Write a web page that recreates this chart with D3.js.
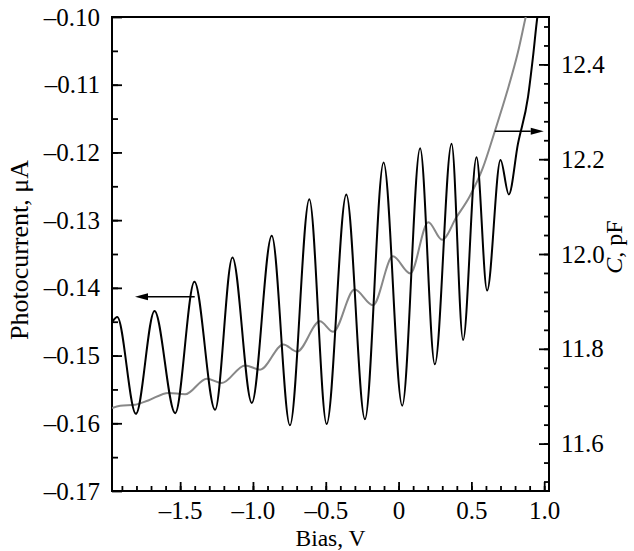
<!DOCTYPE html>
<html>
<head>
<meta charset="utf-8">
<script src="https://cdn.jsdelivr.net/npm/d3@7"></script>
<style>
  body { margin: 0; background: #fff; }
  svg { display: block; font-family: "Liberation Serif", "Times New Roman", serif; }
</style>
</head>
<body>
<div id="chart"></div>
<script>
// photocurrent curve (black): bias in V, current in uA
const biasPc = [-1.968, -1.932, -1.804, -1.676, -1.534, -1.402, -1.260, -1.141, -1.008,
  -0.871, -0.746, -0.613, -0.494, -0.359, -0.231, -0.103, 0.025, 0.148, 0.249,
  0.364, 0.443, 0.535, 0.608, 0.700, 0.757, 0.820, 0.889, 0.923, 0.953, 0.975];
const photocurrent = [-0.1451, -0.1443, -0.1586, -0.1434, -0.1585, -0.1391, -0.1580, -0.1355, -0.1570,
  -0.1323, -0.1603, -0.1269, -0.1601, -0.1262, -0.1594, -0.1215, -0.1574, -0.1194, -0.1513,
  -0.1187, -0.1477, -0.1207, -0.1404, -0.1211, -0.1262, -0.1187, -0.1118, -0.1059, -0.1000, -0.0970];

// capacitance curve (gray): bias in V, C in pF
const biasC = [-1.968, -1.912, -1.809, -1.719, -1.580, -1.466, -1.317, -1.214, -1.054, -0.951,
  -0.791, -0.698, -0.540, -0.449, -0.302, -0.176, -0.039, 0.080, 0.204, 0.299,
  0.398, 0.489, 0.578, 0.660, 0.743, 0.820, 0.873, 0.900];
const capacitance = [11.675, 11.680, 11.682, 11.691, 11.707, 11.704, 11.737, 11.728, 11.765, 11.756,
  11.809, 11.794, 11.858, 11.836, 11.925, 11.892, 11.995, 11.959, 12.067, 12.030,
  12.078, 12.122, 12.181, 12.258, 12.340, 12.426, 12.500, 12.536];

const xTicks = [-1.5, -1.0, -0.5, 0, 0.5, 1.0];
const xTickLabels = ["–1.5", "–1.0", "–0.5", "0", "0.5", "1.0"];
const leftTicks = [-0.17, -0.16, -0.15, -0.14, -0.13, -0.12, -0.11, -0.10];
const leftTickLabels = ["–0.17", "–0.16", "–0.15", "–0.14", "–0.13", "–0.12", "–0.11", "–0.10"];
const rightTicks = [11.6, 11.8, 12.0, 12.2, 12.4];
const rightTickLabels = ["11.6", "11.8", "12.0", "12.2", "12.4"];

// arrows pointing at the axis each curve belongs to
const arrowLeft = {from: -1.40, to: -1.81, y: -0.1413};
const arrowRight = {from: 0.66, to: 0.997, y: 12.259};

const width = 634, height = 551;
const margin = {top: 17, right: 85, bottom: 60, left: 112};

const svg = d3.select("#chart").append("svg")
  .attr("width", width)
  .attr("height", height);

const x = d3.scaleLinear().domain([-1.968, 1.033]).range([margin.left, width - margin.right]);
const yL = d3.scaleLinear().domain([-0.17, -0.10]).range([height - margin.bottom, margin.top]);
const yR = d3.scaleLinear().domain([11.5, 12.5]).range([height - margin.bottom, margin.top]);

const x0 = margin.left, x1 = width - margin.right, y0 = margin.top, y1 = height - margin.bottom;

svg.append("clipPath").attr("id", "plot")
  .append("rect").attr("x", x0).attr("y", y0).attr("width", x1 - x0).attr("height", y1 - y0);

const fontSize = 25;

// minor ticks
const minorX = d3.range(-19, 11).map(d => d / 10);
const minorL = d3.range(-165, -100, 5).map(d => d / 1000);
const minorR = d3.range(1152, 1250, 4).map(d => d / 100);

function styleAxis(g) {
  g.select(".domain").remove();
  g.selectAll(".tick line").attr("stroke", "#000").attr("stroke-width", 1.8);
  g.selectAll("text").attr("font-size", fontSize).attr("fill", "#000")
    .attr("font-family", "'Liberation Serif', 'Times New Roman', serif");
}

svg.append("g").attr("transform", `translate(0,${y1})`)
  .call(d3.axisBottom(x).tickValues(minorX).tickSize(-5).tickFormat(""))
  .call(styleAxis);
svg.append("g").attr("transform", `translate(0,${y1})`)
  .call(d3.axisBottom(x).tickValues(xTicks).tickSize(-9).tickPadding(10)
    .tickFormat((d, i) => xTickLabels[i]))
  .call(styleAxis);

svg.append("g").attr("transform", `translate(${x0},0)`)
  .call(d3.axisLeft(yL).tickValues(minorL).tickSize(-6).tickFormat(""))
  .call(styleAxis);
svg.append("g").attr("transform", `translate(${x0},0)`)
  .call(d3.axisLeft(yL).tickValues(leftTicks).tickSize(-10).tickPadding(12)
    .tickFormat((d, i) => leftTickLabels[i]))
  .call(styleAxis);

svg.append("g").attr("transform", `translate(${x1},0)`)
  .call(d3.axisRight(yR).tickValues(minorR).tickSize(-5).tickFormat(""))
  .call(styleAxis);
svg.append("g").attr("transform", `translate(${x1},0)`)
  .call(d3.axisRight(yR).tickValues(rightTicks).tickSize(-10).tickPadding(12)
    .tickFormat((d, i) => rightTickLabels[i]))
  .call(styleAxis);

// frame
svg.append("rect")
  .attr("x", x0).attr("y", y0).attr("width", x1 - x0).attr("height", y1 - y0)
  .attr("fill", "none").attr("stroke", "#000").attr("stroke-width", 2);

// curves
const lineC = d3.line().x((d, i) => x(biasC[i])).y(d => yR(d)).curve(d3.curveMonotoneX);
svg.append("path")
  .attr("clip-path", "url(#plot)")
  .attr("d", lineC(capacitance))
  .attr("fill", "none").attr("stroke", "#888").attr("stroke-width", 2);

const linePc = d3.line().x((d, i) => x(biasPc[i])).y(d => yL(d)).curve(d3.curveMonotoneX);
svg.append("path")
  .attr("clip-path", "url(#plot)")
  .attr("d", linePc(photocurrent))
  .attr("fill", "none").attr("stroke", "#000").attr("stroke-width", 2);

// arrows
function arrow(xa, xb, yy) {
  const dir = Math.sign(xb - xa);
  const headLen = 13, headW = 3.5;
  svg.append("line")
    .attr("x1", xa).attr("x2", xb - dir * headLen).attr("y1", yy).attr("y2", yy)
    .attr("stroke", "#000").attr("stroke-width", 1.5);
  svg.append("path")
    .attr("d", `M${xb},${yy}L${xb - dir * headLen},${yy - headW}L${xb - dir * headLen},${yy + headW}Z`)
    .attr("fill", "#000");
}
arrow(x(arrowLeft.from), x(arrowLeft.to), yL(arrowLeft.y));
arrow(x(arrowRight.from), x(arrowRight.to), yR(arrowRight.y));

// axis titles
svg.append("text")
  .attr("x", (x0 + x1) / 2).attr("y", 545.8)
  .attr("text-anchor", "middle").attr("font-size", 23.5)
  .text("Bias, V");

svg.append("text")
  .attr("transform", `translate(28,250) rotate(-90)`)
  .attr("text-anchor", "middle").attr("font-size", 26)
  .text("Photocurrent, μA");

const cLabel = svg.append("text")
  .attr("transform", `translate(622,247) rotate(-90)`)
  .attr("text-anchor", "middle").attr("font-size", 24);
cLabel.append("tspan").attr("font-style", "italic").text("C");
cLabel.append("tspan").text(", pF");
</script>
</body>
</html>
